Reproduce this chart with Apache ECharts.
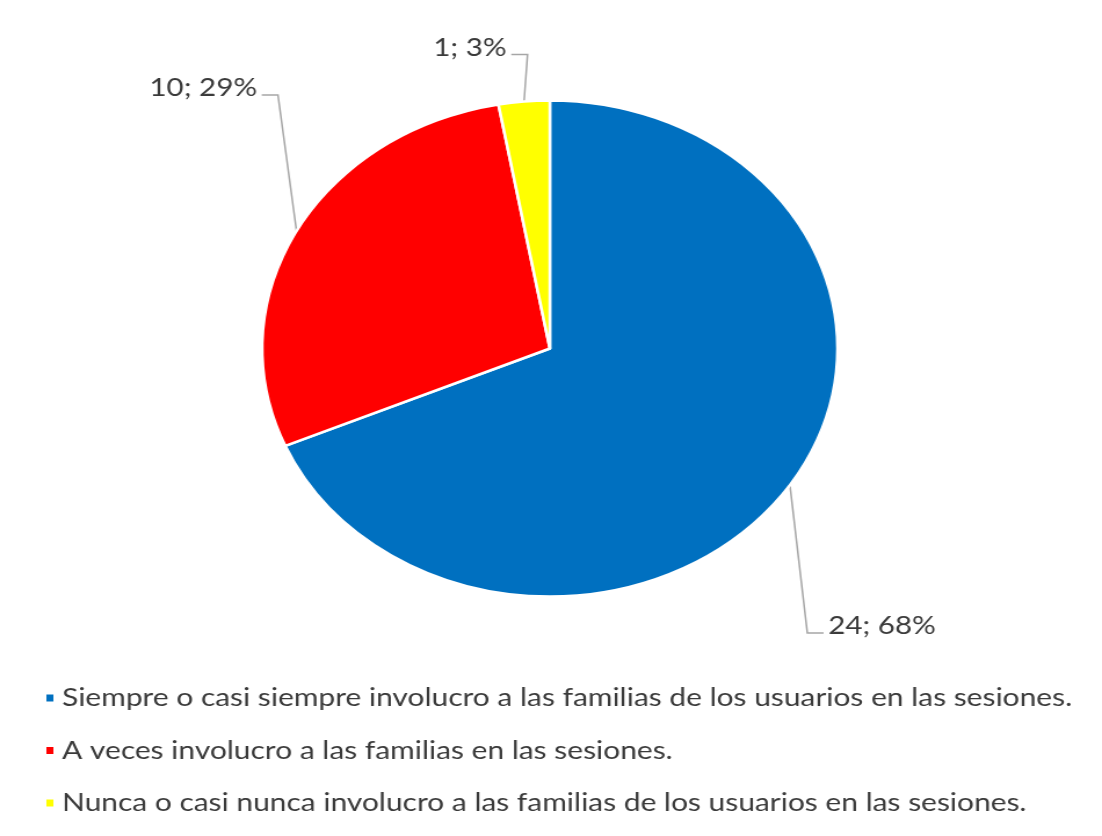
<!DOCTYPE html>
<html>
<head>
<meta charset="utf-8">
<script src="https://cdn.jsdelivr.net/npm/echarts@6/dist/echarts.min.js"></script>
<style>
html,body{margin:0;padding:0;background:#fff;overflow:hidden;}
#chart{width:950px;height:836px;transform:scaleX(1.16);transform-origin:0 0;}
</style>
</head>
<body>
<div id="chart"></div>
<script>
// ---- data ----
var categories = [
  'Siempre o casi siempre involucro a las familias de los usuarios en las sesiones.',
  'A veces involucro a las familias en las sesiones.',
  'Nunca o casi nunca involucro a las familias de los usuarios en las sesiones.'
];
var counts = [24, 10, 1];
var percents = [68, 29, 3];
var colors = ['#0070C0', '#FF0000', '#FFFF00'];

// ---- label leader-line styling (offsets from slice edge, px) ----
var leaderOffsets = [[15, 148], [-16, -136], [3, -47]];
var leaderDir = [1, -1, -1];
var leaderH = 14;

var chart = echarts.init(document.getElementById('chart'));
var data = categories.map(function (c, i) {
  return { name: c, value: counts[i], itemStyle: { color: colors[i] } };
});

chart.setOption({
  animation: false,
  textStyle: { fontFamily: 'Lato' },
  legend: {
    orient: 'vertical',
    left: 33,
    top: 678,
    itemWidth: 8,
    itemHeight: 9,
    itemGap: 22.5,
    icon: 'rect',
    textStyle: { fontFamily: 'Lato', fontSize: 25.8, color: '#3a3a3a', lineHeight: 30, padding: [0, 0, 0, 1.5] },
    data: categories
  },
  series: [{
    type: 'pie',
    center: [474, 348.5],
    radius: 248,
    startAngle: 90,
    clockwise: true,
    avoidLabelOverlap: false,
    itemStyle: { borderColor: '#fff', borderWidth: 2.5 },
    label: {
      show: true,
      position: 'outside',
      fontFamily: 'Lato',
      fontSize: 25.5,
      color: '#3a3a3a',
      formatter: function (p) { return counts[p.dataIndex] + '; ' + percents[p.dataIndex] + '%'; }
    },
    labelLine: { show: true, length: 20, length2: 10, lineStyle: { color: '#A6A6A6', width: 1.5 } },
    labelLayout: function (p) {
      var i = p.dataIndex;
      var s = p.labelLinePoints[0];
      var corner = [s[0] + leaderOffsets[i][0], s[1] + leaderOffsets[i][1]];
      var end = [corner[0] + leaderDir[i] * leaderH, corner[1]];
      return {
        x: end[0] + leaderDir[i] * 4,
        y: end[1] - 7,
        align: leaderDir[i] > 0 ? 'left' : 'right',
        verticalAlign: 'middle',
        labelLinePoints: [s, corner, end]
      };
    },
    data: data
  }]
});
</script>
</body>
</html>
